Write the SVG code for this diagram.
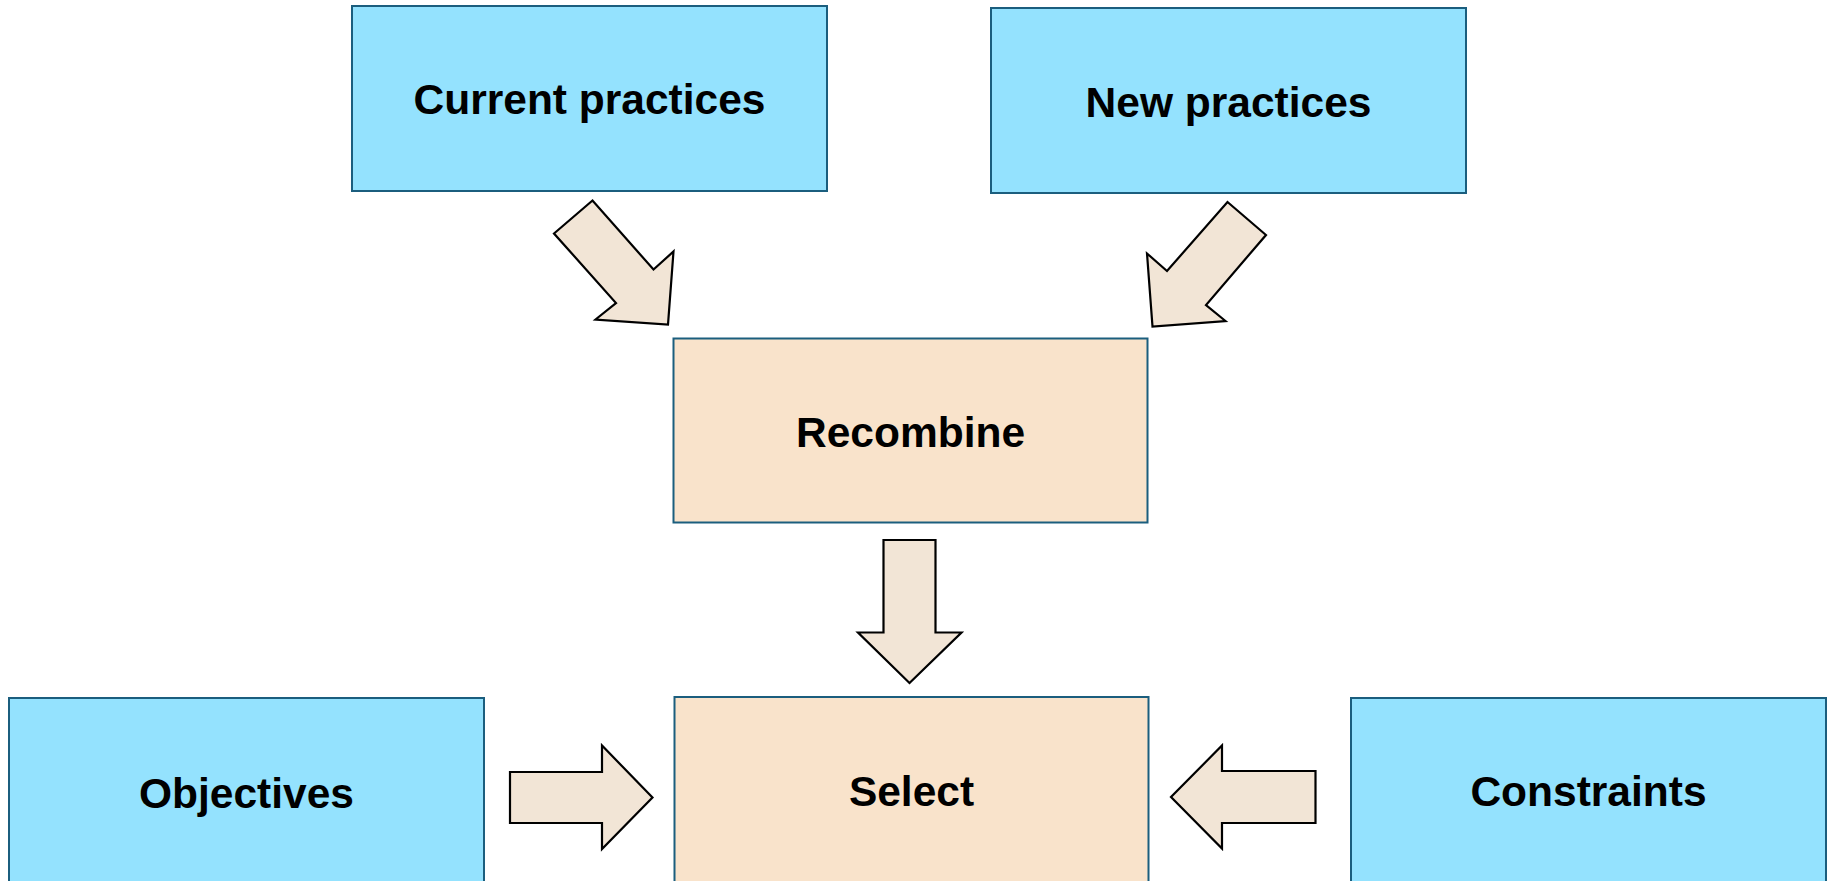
<svg xmlns="http://www.w3.org/2000/svg" width="1833" height="881" viewBox="0 0 1833 881">
  <style>
    .input rect { fill: #94E2FE; stroke: #1B5E7E; stroke-width: 2; }
    .step rect { fill: #F9E3CB; stroke: #1B5E7E; stroke-width: 2; }
    text { font-family: "Liberation Sans", Arial, sans-serif; font-weight: bold; font-size: 42.5px; fill: #000; text-anchor: middle; }
    .arrow { fill: #F2E5D6; stroke: #000; stroke-width: 2.2; stroke-linejoin: miter; }
  </style>
  <rect width="1833" height="881" fill="#FFFFFF"/>

  <g id="current-practices" class="input">
    <rect x="352" y="6" width="475" height="185"/>
    <text x="589.5" y="114">Current practices</text>
  </g>
  <g id="new-practices" class="input">
    <rect x="991" y="8" width="475" height="185"/>
    <text x="1228.5" y="117">New practices</text>
  </g>
  <g id="recombine" class="step">
    <rect x="673.5" y="338.5" width="474" height="184"/>
    <text x="910.5" y="447">Recombine</text>
  </g>
  <g id="select" class="step">
    <rect x="674.5" y="697" width="474" height="200"/>
    <text x="911.5" y="806">Select</text>
  </g>
  <g id="objectives" class="input">
    <rect x="9" y="698" width="475" height="200"/>
    <text x="246.5" y="808">Objectives</text>
  </g>
  <g id="constraints" class="input">
    <rect x="1351" y="698" width="475" height="200"/>
    <text x="1588.5" y="806">Constraints</text>
  </g>

  <g id="connectors">
    <!-- Current practices -> Recombine -->
    <polygon class="arrow" points="592.5,200.5 554,233.5 616,303 595.5,319.5 668,324.5 673.5,251.5 653.5,269.5"/>
    <!-- New practices -> Recombine -->
    <polygon class="arrow" points="1227.5,202 1266,235 1206,305 1225.5,321 1152.5,326.5 1147,253.5 1167,271"/>
    <!-- Recombine -> Select -->
    <polygon class="arrow" points="883.5,540 935.5,540 935.5,632.5 961.5,632.5 909.5,683 858,632.5 883.5,632.5"/>
    <!-- Objectives -> Select -->
    <polygon class="arrow" points="510,772 602,772 602,745.5 652.5,797.5 602,849 602,823 510,823"/>
    <!-- Constraints -> Select -->
    <polygon class="arrow" points="1315.5,771 1222,771 1222,745.5 1171,797 1222,848.5 1222,823 1315.5,823"/>
  </g>
</svg>
